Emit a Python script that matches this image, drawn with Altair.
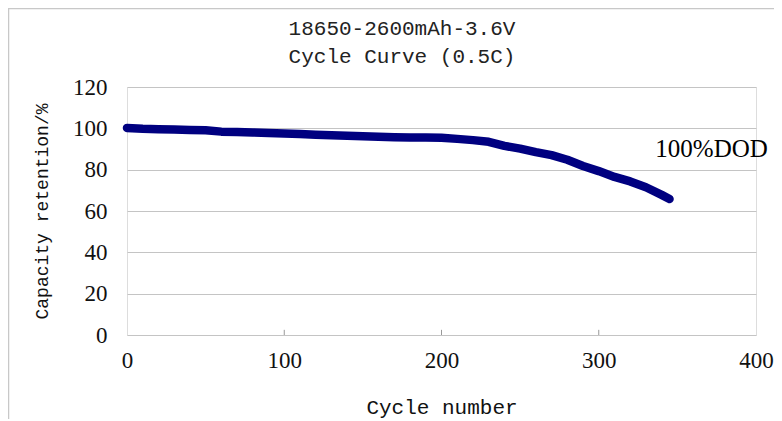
import altair as alt
import pandas as pd

# ---- data ----
cycles = [0, 10, 20, 30, 40, 50, 60, 70, 80, 90, 100, 110, 120, 130, 140, 150,
          160, 170, 180, 190, 200, 210, 220, 230, 240, 250, 260, 270, 280, 290,
          300, 310, 320, 330, 340, 345]
retention = [100.2, 99.8, 99.6, 99.4, 99.2, 99.1, 98.4, 98.2, 98.0, 97.8, 97.5,
             97.2, 96.9, 96.6, 96.4, 96.2, 95.9, 95.7, 95.6, 95.6, 95.4, 94.9,
             94.3, 93.5, 91.5, 90.2, 88.5, 87.0, 84.8, 81.8, 79.3, 76.5, 74.3,
             71.5, 67.8, 65.8]
x_ticks = [0, 100, 200, 300, 400]
y_ticks = [0, 20, 40, 60, 80, 100, 120]
inner_ticks = [100, 200, 300]
label_x = [336]
label_y = [90]
label_text = ["100%DOD"]
title_lines = ["18650-2600mAh-3.6V", "Cycle Curve (0.5C)"]

df = pd.DataFrame({"cycle": cycles, "retention": retention})
tick_df = pd.DataFrame({"t": inner_ticks, "y0": [0] * 3, "y1": [2.5] * 3})
lab_df = pd.DataFrame({"x": label_x, "y": label_y, "text": label_text})
one = pd.DataFrame({"a": [0]})

xscale = alt.Scale(domain=[0, 400], nice=False)
yscale = alt.Scale(domain=[0, 120], nice=False)

line = alt.Chart(df).mark_line(
    color="#000080", strokeWidth=8.5, strokeCap="round", strokeJoin="round"
).encode(
    x=alt.X("cycle:Q", scale=xscale, axis=alt.Axis(
        values=x_ticks, title="Cycle number", grid=False, ticks=False, domain=False,
        labelFont="Liberation Serif", labelFontSize=23, labelPadding=14,
        labelFlush=False, labelColor="#111", titleFont="Liberation Mono",
        titleFontSize=21, titleFontWeight="normal", titleColor="#111", titleY=72,
        titleBaseline="middle")),
    y=alt.Y("retention:Q", scale=yscale, axis=alt.Axis(
        values=y_ticks, title="Capacity retention/%", grid=True,
        gridColor="#c4c4c4", gridWidth=1, ticks=False, domain=False,
        labelFont="Liberation Serif", labelFontSize=23, labelPadding=20,
        labelFlush=False, labelColor="#111", titleFont="Liberation Mono",
        titleFontSize=18, titleFontWeight="normal", titleColor="#111",
        titleX=-85, titleY=124, titleBaseline="middle", titleAngle=-90,
        titleAlign="center")),
)

ticks = alt.Chart(tick_df).mark_rule(color="#999", strokeWidth=1).encode(
    x=alt.X("t:Q", scale=xscale),
    y=alt.Y("y0:Q", scale=yscale),
    y2="y1:Q",
)

label = alt.Chart(lab_df).mark_text(
    align="left", baseline="middle", font="Liberation Serif", fontSize=25,
    color="#000"
).encode(
    x=alt.X("x:Q", scale=xscale),
    y=alt.Y("y:Q", scale=yscale),
    text="text:N",
)

title1 = alt.Chart(one).mark_text(
    align="center", baseline="middle", font="Liberation Mono", fontSize=21,
    color="#222", text=title_lines[0]
).encode(x=alt.value(275), y=alt.value(-58))
title2 = alt.Chart(one).mark_text(
    align="center", baseline="middle", font="Liberation Mono", fontSize=21,
    color="#222", text=title_lines[1]
).encode(x=alt.value(275), y=alt.value(-30))

frame_left = alt.Chart(one).mark_rule(color="#c8c8c8", strokeWidth=1.5).encode(
    x=alt.value(-118.5), y=alt.value(-79), y2=alt.value(340))
frame_top = alt.Chart(one).mark_rule(color="#c8c8c8", strokeWidth=1.5).encode(
    x=alt.value(-119), x2=alt.value(647), y=alt.value(-78.5))

chart = alt.layer(frame_left, frame_top, ticks, line, label, title1, title2).properties(
    width=629,
    height=248,
    autosize=alt.AutoSizeParams(type="none"),
    padding={"left": 119, "top": 79, "right": 18, "bottom": 84},
).configure_view(
    stroke="#000", strokeWidth=1.5
).configure(background="white")

chart.save("out.html", embed_options={"renderer": "svg", "actions": False})
